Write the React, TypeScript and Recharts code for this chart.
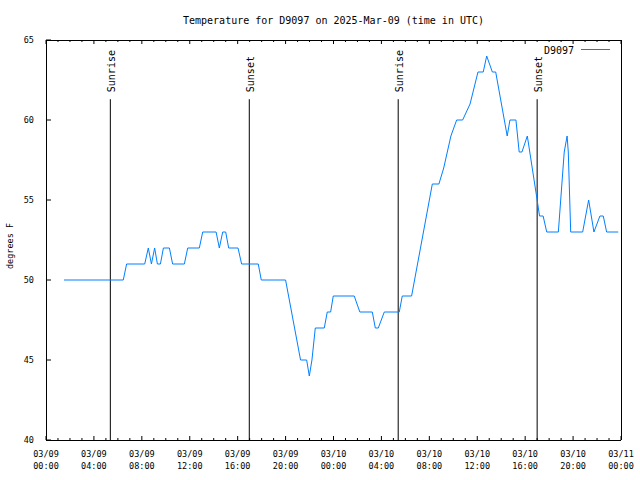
import React from 'react';
import { LineChart, Line, XAxis, YAxis, ReferenceLine } from 'recharts';

// time in hours since 2025-03-09 00:00 UTC
const hours = [
  1.5, 6.45, 6.73, 8.24, 8.54, 8.8, 9.07, 9.3, 9.55, 9.8, 10.3, 10.57, 11.55, 11.83, 12.8, 13.08,
  14.2, 14.47, 14.75, 15.0, 15.25, 16.03, 16.33, 17.72, 17.97, 20.0, 21.25, 21.76, 21.98, 22.2,
  22.48, 23.23, 23.48, 23.76, 23.98, 25.73, 26.2, 27.24, 27.49, 27.74, 28.24, 29.49, 29.74, 30.52,
  32.25, 32.8, 33.2, 33.8, 34.28, 34.78, 35.4, 36.06, 36.5, 36.79, 37.26, 37.54, 38.5, 38.73,
  39.23, 39.5, 39.73, 40.18, 41.0, 41.2, 41.5, 41.8, 42.77, 43.26, 43.5, 43.6, 43.8, 44.8, 45.3,
  45.74, 46.24, 46.52, 46.8, 47.77,
];
const temps = [
  50, 50, 51, 51, 52, 51, 52, 51, 51, 52, 52, 51, 51, 52, 52, 53,
  53, 52, 53, 53, 52, 52, 51, 51, 50, 50, 45, 45, 44, 45,
  47, 47, 48, 48, 49, 49, 48, 48, 47, 47, 48, 48, 49, 49,
  56, 56, 57, 59, 60, 60, 61, 63, 63, 64, 63, 63, 59, 60,
  60, 58, 58, 59, 55, 54, 54, 53, 53, 58, 59, 58, 53, 53, 55,
  53, 54, 54, 53, 53,
];

const hourTicks = Array.from({ length: 49 }, (_, i) => i);
const dayLabels = ['03/09', '03/09', '03/09', '03/09', '03/09', '03/09', '03/10', '03/10', '03/10', '03/10', '03/10', '03/10', '03/11'];
const timeLabels = ['00:00', '04:00', '08:00', '12:00', '16:00', '20:00', '00:00', '04:00', '08:00', '12:00', '16:00', '20:00', '00:00'];
const yTicks = [40, 45, 50, 55, 60, 65];

const eventHours = [5.37, 16.97, 29.4, 41.0];
const eventLabels = ['Sunrise', 'Sunset', 'Sunrise', 'Sunset'];
const eventTop = 61.3;

const title = 'Temperature for D9097 on 2025-Mar-09 (time in UTC)';
const seriesName = 'D9097';
const yLabel = 'degrees F';

const data = hours.map((h, i) => ({ h, t: temps[i] }));

const MONO = "'DejaVu Sans Mono', 'Liberation Mono', monospace";
const BLUE = '#0080ff';

const BottomTick = (props: any) => {
  const { x, y, payload } = props;
  const v = payload.value;
  const major = v % 4 === 0;
  const idx = v / 4;
  return (
    <g>
      <line x1={x} y1={y} x2={x} y2={y - (major ? 4 : 2)} stroke="#000" />
      {major && (
        <>
          <text x={x} y={y + 17} textAnchor="middle" fontSize={8.5} fontFamily={MONO} fill="#000">{dayLabels[idx]}</text>
          <text x={x} y={y + 29} textAnchor="middle" fontSize={8.5} fontFamily={MONO} fill="#000">{timeLabels[idx]}</text>
        </>
      )}
    </g>
  );
};

const TopTick = (props: any) => {
  const { x, y, payload } = props;
  const major = payload.value % 4 === 0;
  return <line x1={x} y1={y} x2={x} y2={y + (major ? 4 : 2)} stroke="#000" />;
};

const LeftTick = (props: any) => {
  const { x, y, payload } = props;
  return (
    <g>
      <line x1={x} y1={y} x2={x + 5} y2={y} stroke="#000" />
      <text x={x - 12} y={y + 3} textAnchor="end" fontSize={8.5} fontFamily={MONO} fill="#000">{payload.value}</text>
    </g>
  );
};

const RightTick = (props: any) => {
  const { x, y } = props;
  return <line x1={x} y1={y} x2={x - 5} y2={y} stroke="#000" />;
};

const makeEventLabel = (text: string) => (p: any) => {
  const vb = p.viewBox || {};
  const x = (vb.x ?? 0) + 1;
  const top = vb.y ?? 0;
  const by = top - 7;
  return (
    <text
      x={x}
      y={by}
      transform={`rotate(-90, ${x}, ${by})`}
      textAnchor="start"
      dominantBaseline="central"
      fontSize={10}
      fontFamily={MONO}
      fill="#000"
    >
      {text}
    </text>
  );
};

const TitleLabel = (p: any) => {
  const vb = p.viewBox || {};
  const cx = (vb.x ?? 0) + (vb.width ?? 0) / 2;
  return (
    <text x={cx} y={24} textAnchor="middle" fontSize={10} fontFamily={MONO} fill="#000">
      {title}
    </text>
  );
};

const YTitle = (p: any) => {
  const vb = p.viewBox || {};
  const cx = 10;
  const cy = (vb.y ?? 0) + (vb.height ?? 0) / 2 + 6;
  return (
    <text x={cx} y={cy} transform={`rotate(-90, ${cx}, ${cy})`} textAnchor="middle" dominantBaseline="central" fontSize={8.5} fontFamily={MONO} fill="#000">
      {yLabel}
    </text>
  );
};

const LegendLabel = (p: any) => {
  const vb = p.viewBox || {};
  const rx = vb.x ?? 0;
  return (
    <g>
      <text x={rx - 47} y={53.5} textAnchor="end" fontSize={10} fontFamily={MONO} fill="#000">{seriesName}</text>
      <line x1={rx - 40} y1={49.5} x2={rx - 11} y2={49.5} stroke={BLUE} strokeWidth={1} />
    </g>
  );
};

export default function App() {
  return (
    <div style={{ position: 'absolute', left: 0, top: 0, width: 640, height: 480, background: '#fff' }}>
      <LineChart width={640} height={480} data={data} margin={{ top: 39, right: 18, bottom: 0, left: 0 }}>
        <XAxis
          dataKey="h"
          type="number"
          domain={[0, 48]}
          ticks={hourTicks}
          interval={0}
          height={40}
          tickSize={0}
          tickMargin={0}
          tickLine={false}
          tick={<BottomTick />}
          axisLine={{ stroke: '#000', shapeRendering: 'crispEdges' }}
        />
        <XAxis
          xAxisId="top"
          orientation="top"
          dataKey="h"
          type="number"
          domain={[0, 48]}
          ticks={hourTicks}
          interval={0}
          height={1}
          tickSize={0}
          tickMargin={0}
          tickLine={false}
          tick={<TopTick />}
          axisLine={{ stroke: '#000', shapeRendering: 'crispEdges' }}
          label={<TitleLabel />}
        />
        <YAxis
          type="number"
          domain={[40, 65]}
          ticks={yTicks}
          interval={0}
          width={46}
          tickSize={0}
          tickMargin={0}
          tickLine={false}
          tick={<LeftTick />}
          axisLine={{ stroke: '#000', shapeRendering: 'crispEdges' }}
          label={<YTitle />}
        />
        <YAxis
          yAxisId="right"
          orientation="right"
          type="number"
          domain={[40, 65]}
          ticks={yTicks}
          interval={0}
          width={1}
          tickSize={0}
          tickMargin={0}
          tickLine={false}
          tick={<RightTick />}
          axisLine={{ stroke: '#000', shapeRendering: 'crispEdges' }}
          label={<LegendLabel />}
        />
        {eventHours.map((eh, i) => (
          <ReferenceLine
            key={i}
            segment={[{ x: eh, y: 40 }, { x: eh, y: eventTop }]}
            stroke="#000"
            strokeWidth={1}
            ifOverflow="visible"
            label={makeEventLabel(eventLabels[i])}
          />
        ))}
        <Line
          type="linear"
          dataKey="t"
          stroke={BLUE}
          strokeWidth={1}
          dot={false}
          activeDot={false}
          isAnimationActive={false}
        />
      </LineChart>
    </div>
  );
}
